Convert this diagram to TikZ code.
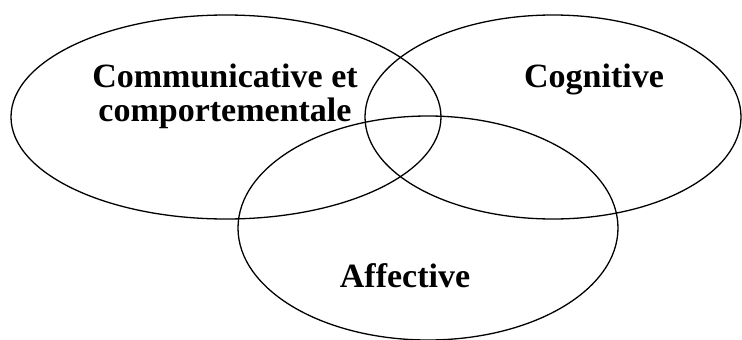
\documentclass[tikz,border=0pt]{standalone}
\usepackage{fontspec}
\setmainfont{Liberation Serif}
\usetikzlibrary{shapes.geometric}

\begin{document}
\begin{tikzpicture}[x=1pt,y=-1pt,
		ring/.style={ellipse,draw,line width=1.3pt,inner sep=0pt},
		lbl/.style={font=\bfseries\fontsize{34}{34}\selectfont,align=center,inner sep=0pt}]
			\useasboundingbox (0,0) rectangle (742,340);
			% the three fields
			\node[ring, minimum width=430pt, minimum height=204pt] (comm) at (226,117) {};
			\node[ring, minimum width=376pt, minimum height=204pt] (cog) at (553,117) {};
			\node[ring, minimum width=380pt, minimum height=224pt] (aff) at (428,228) {};
			% labels
			\node[lbl] (l_comm) at (225,96) {Communicative et\\comportementale};
			\node[lbl, anchor=base] (l_cog) at (594,87) {Cognitive};
			\node[lbl, anchor=base] (l_aff) at (405,287) {Affective};
		\end{tikzpicture}
\end{document}
